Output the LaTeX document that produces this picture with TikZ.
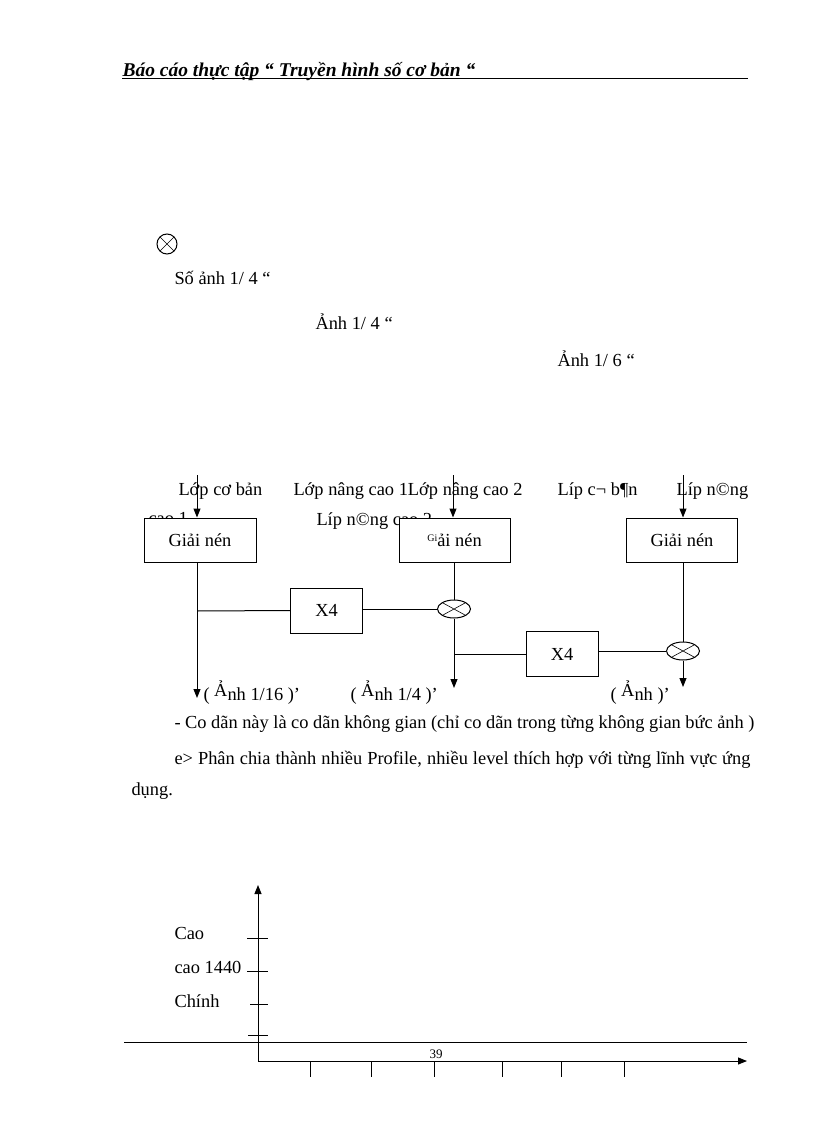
\documentclass[tikz,border=0pt]{standalone}
\usepackage{fontspec}
\setmainfont{Liberation Serif}
\usetikzlibrary{arrows.meta,positioning,calc,shapes.geometric}
\tikzset{every picture/.style={line width=1pt}}
\tikzset{
  chu/.style={anchor=base west, inner sep=0pt, font=\fontsize{18.4}{21}\selectfont},
  khoi/.style={draw, fill=white, inner sep=0pt, minimum width=112pt, minimum height=44pt, font=\fontsize{18.4}{21}\selectfont},
  nhan/.style={draw, fill=white, inner sep=0pt, minimum width=72pt, minimum height=45pt, font=\fontsize{18.4}{21}\selectfont},
  tron/.style={draw, ellipse, fill=white, inner sep=0pt, minimum width=33pt, minimum height=18pt,
    path picture={\draw[line width=0.6pt] (path picture bounding box.north west) -- (path picture bounding box.south east)
      (path picture bounding box.south west) -- (path picture bounding box.north east);}},
  muiten/.style={-{Triangle[length=9pt,width=7pt]}}
}

\begin{document}
\begin{tikzpicture}[x=1pt,y=-1pt]
    \useasboundingbox[fill=white] (0,0) rectangle (816,1123);

    % tieu de trang
    \node[anchor=base west, inner sep=0pt, font=\fontsize{19.5}{22}\selectfont\bfseries\itshape] (tieude) at (122,77) {Báo cáo thực tập “ Truyền hình số cơ bản “};
    \draw (122,79) -- (748,79);

    % ky hieu va cac dong chu
    \node[tron, circle, minimum size=20pt] (kyhieu) at (167,244) {};
    \node[chu] (soanh) at (174,284) {Số ảnh 1/ 4 “};
    \node[chu] (anh14) at (315,329) {Ảnh 1/ 4 “};
    \node[chu] (anh16) at (557,366) {Ảnh 1/ 6 “};

    % nhan cac lop
    \node[chu] (lop0) at (178,495) {Lớp cơ bản};
    \node[chu] (lop12) at (293,495) {Lớp nâng cao 1Lớp nâng cao 2};
    \node[chu] (lipcb) at (557,495) {Líp c¬ b¶n};
    \node[chu] (lipnc) at (676,495) {Líp n©ng};
    \node[chu] (cao1) at (148,524) {cao 1};
    \node[chu] (lipnc2) at (316,525) {Líp n©ng cao 2};

    % cac khoi giai nen
    \node[khoi] (giai1) at (200,540) {Giải nén};
    \node[khoi, minimum width=111pt] (giai2) at (454.5,540) {\raisebox{5pt}{\fontsize{10}{12}\selectfont Gi}ải nén};
    \node[khoi, minimum width=111pt] (giai3) at (682,540) {Giải nén};

    \coordinate (vao1) at (197,475);
    \coordinate (vao2) at (453,475);
    \coordinate (vao3) at (683,475);
    \draw[muiten] (vao1) -- (vao1 |- giai1.north);
    \draw[muiten] (vao2) -- (vao2 |- giai2.north);
    \draw[muiten] (vao3) -- (vao3 |- giai3.north);

    % nhanh X4 thu nhat
    \node[nhan] (x4a) at (326.5,610.5) {X4};
    \node[tron] (cong1) at (454,609) {};
    \coordinate (ra1) at (197,698);
    \coordinate (nhanh1) at (197,611);
    \draw[muiten] (vao1 |- giai1.south) -- (ra1);
    \draw (nhanh1) -- (x4a.west);
    \draw (x4a.east |- cong1) -- (cong1.west);
    \draw (cong1 |- giai2.south) -- (cong1.north);

    % nhanh X4 thu hai
    \node[nhan] (x4b) at (562,654) {X4};
    \node[tron] (cong2) at (683,651) {};
    \coordinate (ra2) at (454,688);
    \coordinate (nhanh2) at (454,654);
    \coordinate (ra3) at (683,687);
    \draw[muiten] (cong1.south) -- (ra2);
    \draw (nhanh2) -- (x4b.west);
    \draw (x4b.east |- cong2) -- (cong2.west);
    \draw (cong2 |- giai3.south) -- (cong2.north);
    \draw[muiten] (cong2.south) -- (ra3);

    % nhan dau ra
    \node[chu] (kq1) at (203,700) {( \raisebox{4pt}{Ả}nh 1/16 )’};
    \node[chu] (kq2) at (350,700) {( \raisebox{4pt}{Ả}nh 1/4 )’};
    \node[chu] (kq3) at (610,700) {( \raisebox{4pt}{Ả}nh )’};

    % doan van
    \node[chu] (dong1) at (174,728) {\makebox[580pt][s]{- Co dãn này là  co dãn không gian  (chỉ co dãn trong từng không gian  bức ảnh )}};
    \node[chu] (dong2) at (174,764) {\makebox[576pt][s]{e> Phân chia thành nhiều Profile, nhiều level thích hợp với từng lĩnh vực ứng}};
    \node[chu] (dong3) at (131,795) {dụng.};

    % truc do thi
    \coordinate (goc) at (258,1061);
    \coordinate (dinhy) at (258,885);
    \coordinate (dinhx) at (747,1061);
    \draw[muiten] (goc) -- (dinhy);
    \draw[muiten] (goc) -- (dinhx);
    \foreach \y/\a in {938/247,971/247,1004/250,1035/248}
      \draw (\a,\y) -- (268,\y);
    \foreach \x in {310,371,434,502,561,624}
      \draw (\x,1061) -- (\x,1077);
    \node[chu] (cao) at (174,939) {Cao};
    \node[chu] (cao1440) at (174,973) {cao 1440};
    \node[chu] (chinh) at (174,1007) {Chính};

    % chan trang
    \draw (124,1042) -- (747,1042);
    \node[anchor=base, inner sep=0pt, font=\fontsize{13}{15}\selectfont] (trang) at (436,1058) {39};
\end{tikzpicture}
\end{document}
